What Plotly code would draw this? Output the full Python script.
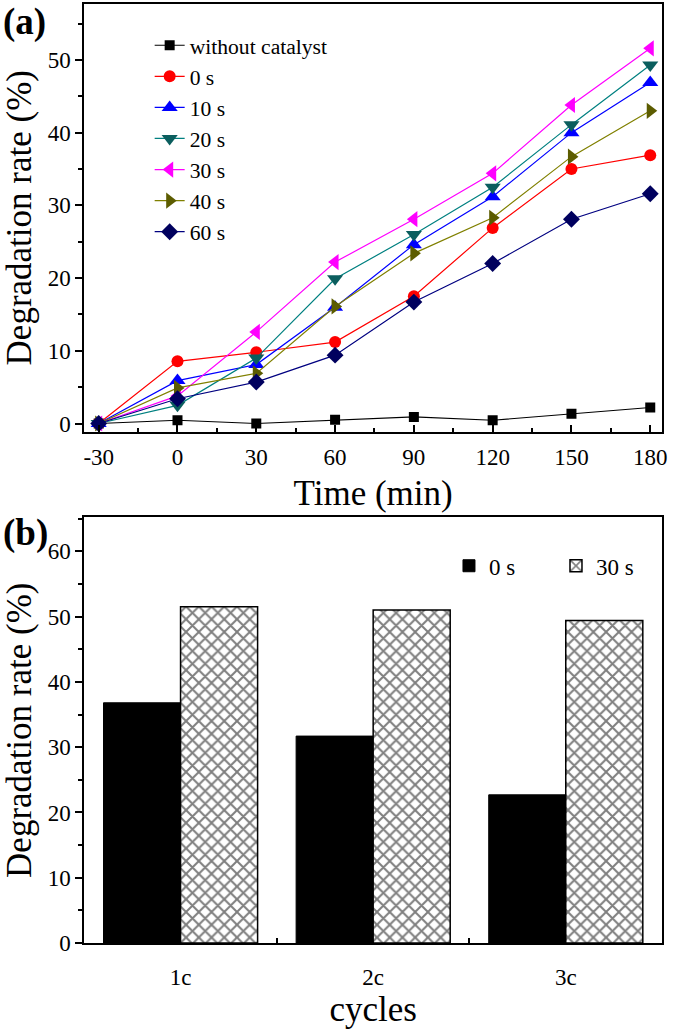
import plotly.graph_objects as go

# ---------------- data ----------------
time_min = [-30, 0, 30, 60, 90, 120, 150, 180]
time_labels = ["-30", "0", "30", "60", "90", "120", "150", "180"]
without_catalyst = [0, 0.45, 0.0, 0.5, 0.9, 0.45, 1.35, 2.2]
s0 = [0, 8.55, 9.8, 11.2, 17.5, 26.9, 35.0, 36.9]
s10 = [0, 5.9, 8.1, 16.0, 24.6, 31.2, 40.0, 46.9]
s20 = [0, 2.5, 9.0, 19.9, 26.0, 32.5, 41.1, 49.3]
s30 = [0, 3.8, 12.6, 22.2, 28.1, 34.4, 43.8, 51.6]
s40 = [0, 4.9, 6.9, 16.1, 23.4, 28.3, 36.7, 43.0]
s60 = [0, 3.4, 5.7, 9.4, 16.7, 22.0, 28.1, 31.6]

series_names = ["without catalyst", "0 s", "10 s", "20 s", "30 s", "40 s", "60 s"]
series_values = [without_catalyst, s0, s10, s20, s30, s40, s60]

cycles = ["1c", "2c", "3c"]
bar_0s = [36.8, 31.7, 22.7]
bar_30s = [51.5, 51.0, 49.4]

# ---------------- styles ----------------
line_colors = ["#000000", "#FF0000", "#0000FF", "#008080", "#FF00FF", "#808000", "#000080"]
marker_colors = ["#000000", "#FF0000", "#0000FF", "#0B5E5E", "#FF00FF", "#5C5C00", "#00005E"]
symbols = ["square", "circle", "triangle-up", "triangle-down", "triangle-left", "triangle-right", "diamond"]
sizes = [10, 12, 14, 14, 14, 14, 13]

FONT = "Times New Roman"
W, H = 675, 1034

fig = go.Figure()

for name, vals, lc, mc, sym, sz in zip(series_names, series_values, line_colors, marker_colors, symbols, sizes):
    fig.add_trace(go.Scatter(
        x=time_min, y=vals, name=name, mode="lines+markers",
        line=dict(color=lc, width=1.2),
        marker=dict(symbol=sym, size=sz, color=mc, line=dict(width=0)),
        xaxis="x", yaxis="y", legend="legend",
    ))

fig.add_trace(go.Bar(
    x=cycles, y=bar_0s, name="0 s",
    marker=dict(color="black", line=dict(color="black", width=1)),
    xaxis="x2", yaxis="y2", legend="legend2",
))
fig.add_trace(go.Bar(
    x=cycles, y=bar_30s, name="30 s",
    marker=dict(color="white", line=dict(color="black", width=1.5),
                pattern=dict(shape="x", fgcolor="black", bgcolor="white", size=9, solidity=0.4)),
    xaxis="x2", yaxis="y2", legend="legend2",
))

xdom = [84 / W, 667 / W]


def tickfont():
    return dict(family=FONT, size=23, color="black")


def titlefont():
    return dict(family=FONT, size=35, color="black")


common = dict(showline=True, linecolor="black", linewidth=2, mirror=True,
              showgrid=False, zeroline=False, tickcolor="black", tickwidth=1.5)

fig.update_layout(
    width=W, height=H, autosize=False,
    margin=dict(l=0, r=0, t=0, b=0),
    paper_bgcolor="white", plot_bgcolor="white",
    font=dict(family=FONT, color="black", size=23),
    barmode="group", bargap=0.2, bargroupgap=0,
    xaxis=dict(
        domain=xdom, anchor="y", range=[-35.5, 184.5],
        tickmode="array", tickvals=time_min, ticktext=time_labels,
        ticks="inside", ticklen=7, tickfont=tickfont(), ticklabelstandoff=4,
        minor=dict(ticks="inside", ticklen=4, dtick=15, tick0=-30, tickcolor="black", tickwidth=1.5),
        title=dict(text="Time (min)", font=titlefont(), standoff=11),
        **common,
    ),
    yaxis=dict(
        domain=[1 - 437 / H, 1 - 4 / H], anchor="x", range=[-1.1, 57.7],
        dtick=10, tick0=0,
        ticks="outside", ticklen=7, tickfont=tickfont(),
        minor=dict(ticks="outside", ticklen=4, dtick=5, tickcolor="black", tickwidth=1.5),
        title=dict(text="Degradation rate (%)", font=titlefont(), standoff=10),
        **common,
    ),
    xaxis2=dict(
        domain=xdom, anchor="y2", type="category", range=[-0.5, 2.5],
        tickson="boundaries", ticks="inside", ticklen=5, tickfont=tickfont(),
        ticklabelstandoff=12,
        title=dict(text="cycles", font=titlefont(), standoff=8),
        **common,
    ),
    yaxis2=dict(
        domain=[1 - 955 / H, 1 - 524 / H], anchor="x2", range=[0, 65.2],
        dtick=10, tick0=0,
        ticks="outside", ticklen=7, tickfont=tickfont(),
        minor=dict(ticks="outside", ticklen=4, dtick=5, tickcolor="black", tickwidth=1.5),
        title=dict(text="Degradation rate (%)", font=titlefont(), standoff=10),
        **common,
    ),
    legend=dict(
        x=150 / W, xanchor="left", y=1 - 25 / H, yanchor="top",
        bgcolor="rgba(0,0,0,0)", borderwidth=0,
        font=dict(family=FONT, size=21.6, color="black"),
        tracegroupgap=0,
    ),
    legend2=dict(
        orientation="h", x=452 / W, xanchor="left", y=1 - 573 / H, yanchor="middle",
        bgcolor="rgba(0,0,0,0)", borderwidth=0, entrywidth=62,
        font=dict(family=FONT, size=23, color="black"),
    ),
    annotations=[
        dict(text="<b>(a)</b>", x=0.0, y=1 - 22 / H, xref="paper", yref="paper",
             xanchor="left", yanchor="middle", showarrow=False,
             font=dict(family=FONT, size=37, color="black")),
        dict(text="<b>(b)</b>", x=0.0, y=1 - 540 / H, xref="paper", yref="paper",
             xanchor="left", yanchor="middle", showarrow=False,
             font=dict(family=FONT, size=37, color="black")),
    ],
)

fig.write_html("out.html", config={"displayModeBar": False},
               post_script="document.body.style.margin='0';")
